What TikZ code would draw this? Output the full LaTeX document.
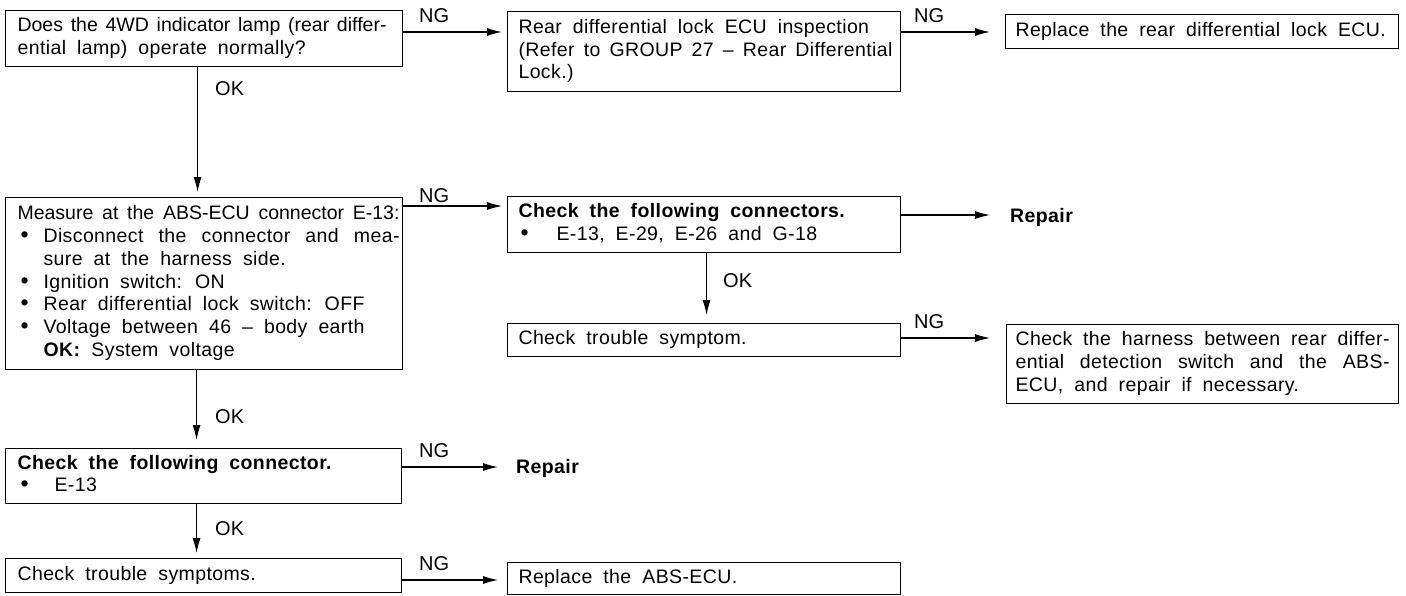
\documentclass[tikz,border=0pt]{standalone}
\usepackage{fontspec}
\setmainfont{Liberation Sans}[LetterSpace=2,WordSpace=1.9]
\newfontfamily\tightf{Liberation Sans}[WordSpace=1.2]
\newfontfamily\lblf{Liberation Sans}
\usetikzlibrary{arrows.meta}
\newcommand\bx[4]{\parbox{#1pt}{\fontsize{19.5}{22.7}\selectfont\tolerance=10000\hbadness=10000\hfuzz=20pt\hyphenpenalty=10000\exhyphenpenalty=10000\parindent=0pt\leftskip=#2pt\rightskip=#3pt\relax #4}}
\newcommand\bul[2]{\hspace*{#1pt}\makebox[#2pt][l]{\fontsize{23}{20}\selectfont •}}
\tikzset{
  box/.style={draw, line width=1.1pt, inner sep=0pt, anchor=north west},
  arr/.style={line width=1.1pt, -{Latex[length=15pt,width=8pt]}},
  lbl/.style={anchor=base west, inner sep=0pt, font=\lblf\fontsize{20}{20}\selectfont},
  rep/.style={anchor=base west, inner sep=0pt, font=\bfseries\fontsize{19.5}{20}\selectfont}
}
\begin{document}
\begin{tikzpicture}[x=1pt,y=-1pt]
\useasboundingbox[fill=white] (0,0) rectangle (1406,595);
% boxes
\node[box, minimum height=56pt] (A) at (5,10) {\bx{397}{12}{16}{\strut{\tightf Does the 4WD indicator lamp (rear differ-}\linebreak ential lamp) operate normally?\strut}};
\node[box, minimum height=80pt] (B) at (507,11) {\bx{393}{11}{8}{\strut Rear differential lock ECU inspection\newline (Refer to GROUP 27 – Rear Differential\linebreak Lock.)\strut}};
\node[box, minimum height=34pt] (C) at (1005,14) {\bx{393}{10}{5}{\strut Replace the rear differential lock ECU.\strut}};
\node[box, minimum height=172pt] (D) at (5,197) {\bx{397}{12}{3}{%
{\parfillskip=0pt \strut\tightf Measure at the ABS-ECU connector E-13:\par}%
\hangindent=26pt\hangafter=1 \bul{3}{23}Disconnect the connector and mea-\linebreak sure at the harness side.\par
\bul{3}{23}Ignition switch: ON\par
\bul{3}{23}Rear differential lock switch: OFF\par
\hangindent=26pt\hangafter=1 \bul{3}{23}Voltage between 46 – body earth\newline\textbf{OK:} System voltage\strut}};
\node[box, minimum height=56pt] (E) at (507,196) {\bx{393}{11}{5}{\strut\textbf{Check the following connectors.}\newline\bul{2}{36}E-13, E-29, E-26 and G-18\strut}};
\node[box, minimum height=33pt] (F) at (507,323) {\bx{393}{11}{5}{\strut Check trouble symptom.\strut}};
\node[box, minimum height=79pt] (G) at (1006,324) {\bx{392}{9}{9}{\strut Check the harness between rear differ-\linebreak ential detection switch and the ABS-\linebreak ECU, and repair if necessary.\strut}};
\node[box, minimum height=55pt] (H) at (5,448) {\bx{396}{12}{5}{\strut\textbf{Check the following connector.}\newline\bul{3}{34}E-13\strut}};
\node[box, minimum height=34pt] (I) at (5,558) {\bx{396}{12}{5}{\strut Check trouble symptoms.\strut}};
\node[box, minimum height=32pt] (J) at (507,562) {\bx{393}{11}{5}{\strut Replace the ABS-ECU.\strut}};
% repair texts
\node[rep] (R1) at (1010,222) {Repair};
\node[rep] (R2) at (516,473) {Repair};
% labels
\node[lbl] (ng1) at (419,22) {NG};
\node[lbl] (ng2) at (419,202) {NG};
\node[lbl] (ng3) at (914,22) {NG};
\node[lbl] (ng4) at (914,328) {NG};
\node[lbl] (ng5) at (419,457) {NG};
\node[lbl] (ng6) at (419,570) {NG};
\node[lbl] (ok1) at (215,95) {OK};
\node[lbl] (ok2) at (723,287) {OK};
\node[lbl] (ok3) at (215,423) {OK};
\node[lbl] (ok4) at (215,535) {OK};
% horizontal connectors
\coordinate (a1) at ([yshift=-22pt]A.north east);
\draw[arr, shorten >=5pt] (a1) -- (a1 -| B.west);
\coordinate (b1) at ([yshift=-21pt]B.north east);
\draw[arr, shorten >=15pt] (b1) -- (b1 -| C.west);
\coordinate (d1) at ([yshift=-9pt]D.north east);
\draw[arr, shorten >=5pt] (d1) -- (d1 -| E.west);
\coordinate (e1) at ([yshift=-19pt]E.north east);
\draw[arr, shorten >=20pt] (e1) -- (e1 -| R1.west);
\coordinate (f1) at ([yshift=-15pt]F.north east);
\draw[arr, shorten >=16pt] (f1) -- (f1 -| G.west);
\coordinate (h1) at ([yshift=-19pt]H.north east);
\draw[arr, shorten >=18pt] (h1) -- (h1 -| R2.west);
\coordinate (i1) at ([yshift=-22pt]I.north east);
\draw[arr, shorten >=9pt] (i1) -- (i1 -| J.west);
% vertical connectors
\coordinate (av) at ([xshift=-6.5pt]A.south);
\draw[arr, shorten >=5pt] (av) -- (av |- D.north);
\coordinate (ev) at ([xshift=2.5pt]E.south);
\draw[arr, shorten >=8pt] (ev) -- (ev |- F.north);
\coordinate (dv) at ([xshift=-7.5pt]D.south);
\draw[arr, shorten >=8pt] (dv) -- (dv |- H.north);
\coordinate (hv) at ([xshift=-7pt]H.south);
\draw[arr, shorten >=5pt] (hv) -- (hv |- I.north);
\end{tikzpicture}
\end{document}
